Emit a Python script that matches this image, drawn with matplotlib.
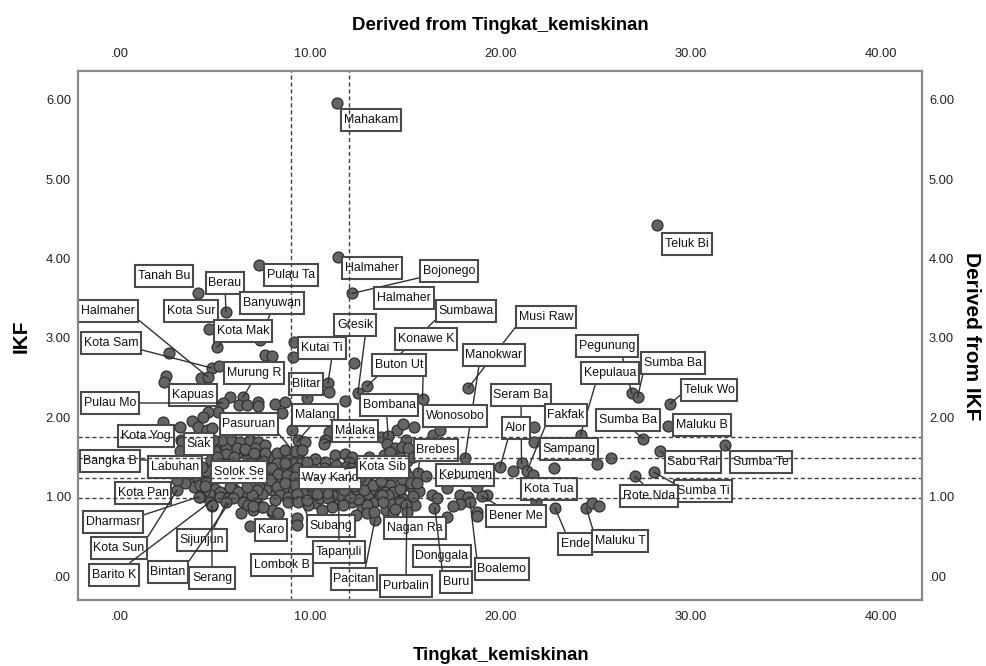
import matplotlib
matplotlib.use("Agg")
import matplotlib.pyplot as plt
from matplotlib.path import Path

plt.rcParams['font.family'] = ['Liberation Sans', 'DejaVu Sans']

# Scatter values: poverty rate (Tingkat_kemiskinan) and IKF
poverty_outliers = [11.4, 28.2, 7.3, 11.45, 12.2, 4.1, 5.57, 4.68, 5.1, 7.36, 9.14, 9.09, 7.62, 8.0, 12.3, 2.57, 4.83, 5.2, 4.26, 4.62, 2.42, 2.31, 10.93, 11.0, 12.98, 12.5, 11.82, 9.83, 15.9, 18.3]
ikf_outliers = [5.96, 4.42, 3.92, 4.02, 3.56, 3.56, 3.33, 3.11, 2.88, 2.97, 2.95, 2.76, 2.78, 2.77, 2.68, 2.81, 2.62, 2.64, 2.49, 2.51, 2.52, 2.44, 2.43, 2.32, 2.39, 2.3, 2.2, 2.24, 2.23, 2.37]

poverty_right = [26.9, 27.2, 28.9, 28.8, 27.5, 24.2, 31.8, 28.4, 25.8, 25.06, 22.8, 28.06, 27.06, 21.76, 21.76, 21.1, 21.4, 21.7, 20.66, 19.97, 19.3, 19.0, 18.76, 18.76, 22.86, 24.5, 24.8, 25.17, 21.86, 18.13, 17.87, 18.3, 18.4, 17.87, 17.5, 17.2, 16.4, 16.66, 16.5, 17.2, 18.76, 15.66, 16.08, 15.6]
ikf_right = [2.3, 2.25, 2.17, 1.89, 1.73, 1.78, 1.65, 1.57, 1.49, 1.41, 1.36, 1.31, 1.26, 1.88, 1.69, 1.42, 1.33, 1.27, 1.32, 1.37, 1.02, 1.01, 0.81, 0.76, 0.86, 0.86, 0.92, 0.88, 0.93, 1.49, 1.02, 1.0, 0.93, 0.91, 0.88, 0.74, 1.02, 0.98, 0.86, 1.11, 1.12, 1.3, 1.26, 1.17]

poverty_band = [6.46, 5.78, 5.41, 5.15, 4.62, 4.36, 3.78, 2.26, 3.15, 4.1, 4.57, 4.83, 6.25, 6.67, 7.25, 7.25, 8.15, 8.67, 8.5, 9.04, 14.55, 14.9, 15.45, 16.45, 16.8, 11.0, 10.77, 10.7, 9.72, 9.56, 13.7, 14.1, 14.03, 15.03, 14.45, 14.8, 15.13, 14.19, 3.2, 3.9, 4.4, 4.9, 3.24, 3.15]
ikf_band = [2.25, 2.25, 2.18, 2.07, 2.07, 2.0, 1.95, 1.94, 1.88, 1.88, 1.84, 1.86, 2.15, 2.15, 2.19, 2.14, 2.17, 2.19, 2.05, 1.84, 1.84, 1.91, 1.88, 1.78, 1.84, 1.81, 1.71, 1.67, 1.69, 1.59, 1.75, 1.76, 1.67, 1.71, 1.61, 1.62, 1.61, 1.56, 1.72, 1.7, 1.74, 1.72, 1.69, 1.57]

poverty_west = [5.34, 5.87, 6.3, 6.83, 7.27, 7.62, 6.13, 6.57, 7.1, 7.62, 8.23, 8.67, 9.2, 9.63, 9.37, 10.25, 9.81, 8.23, 8.65, 7.97, 8.32, 8.76, 9.28, 9.2, 9.72, 7.88, 8.23, 8.67, 9.2, 9.63, 10.33, 8.41, 8.85, 9.28, 8.15, 8.85, 9.37, 9.81, 7.45, 7.18, 6.92, 6.48, 6.74, 7.0, 7.45, 7.97, 8.32, 5.25, 5.78, 6.22, 5.25, 5.69, 5.95, 4.73, 4.2, 4.82, 4.2, 4.55, 4.46, 4.81, 5.0, 5.55, 6.0, 6.55, 7.05, 7.5, 4.7, 5.1, 4.3, 3.7, 3.0, 3.42, 4.15, 4.83, 6.36, 6.83, 9.3, 9.3, 8.0, 8.3, 7.5, 7.0, 3.0, 5.6, 6.7]
ikf_west = [1.71, 1.72, 1.69, 1.71, 1.69, 1.65, 1.61, 1.59, 1.61, 1.55, 1.55, 1.59, 1.57, 1.69, 1.71, 1.48, 1.44, 1.42, 1.42, 1.36, 1.29, 1.27, 1.36, 1.25, 1.21, 1.21, 1.12, 1.17, 1.15, 1.04, 1.04, 1.02, 1.0, 1.04, 0.96, 0.94, 0.94, 0.96, 1.04, 1.08, 1.02, 0.94, 0.9, 0.83, 0.87, 0.81, 0.79, 1.06, 1.12, 1.06, 1.0, 0.98, 0.98, 0.94, 1.0, 0.88, 1.15, 1.19, 1.13, 1.46, 1.58, 1.54, 1.5, 1.6, 1.55, 1.45, 1.62, 1.5, 1.38, 1.3, 1.08, 1.17, 1.0, 0.89, 0.79, 0.63, 0.73, 0.65, 0.83, 0.79, 0.87, 0.88, 1.21, 0.93, 1.12]

poverty_east = [13.05, 13.4, 14.1, 14.7, 13.66, 14.05, 14.36, 12.97, 12.52, 12.09, 11.56, 11.13, 10.51, 9.99, 9.63, 10.95, 11.13, 10.6, 11.74, 12.43, 12.97, 13.4, 13.35, 14.36, 15.08, 15.5, 14.9, 14.36, 13.05, 12.88, 12.4, 9.55, 10.25, 11.3, 11.82, 12.2, 12.05, 10.77, 14.2, 13.92, 14.36, 14.71, 14.1, 13.75, 14.27, 13.84, 14.71, 15.03, 14.45, 15.06, 10.2, 10.65, 11.2, 11.75, 12.3, 12.8, 13.3, 13.7, 10.4, 11.0, 11.5, 12.1, 12.6, 13.2, 10.1, 10.7, 11.35, 11.9, 12.55, 10.9, 14.8, 15.3, 15.7, 15.4, 10.05, 10.45, 13.0, 12.15]
ikf_east = [1.04, 1.1, 1.12, 1.08, 1.02, 1.04, 0.92, 0.9, 0.97, 1.0, 1.02, 1.02, 0.98, 1.02, 0.96, 0.98, 0.87, 0.83, 0.89, 0.77, 0.79, 0.71, 0.81, 0.81, 0.92, 0.89, 0.97, 1.02, 1.17, 1.21, 1.1, 1.44, 1.48, 1.53, 1.54, 1.5, 1.44, 1.44, 1.15, 1.06, 1.06, 1.1, 1.02, 1.02, 0.91, 0.94, 0.94, 0.9, 0.85, 0.81, 1.12, 1.1, 1.15, 1.08, 1.14, 1.08, 1.15, 1.2, 1.28, 1.25, 1.3, 1.27, 1.25, 1.3, 1.38, 1.36, 1.4, 1.37, 1.35, 1.05, 1.22, 1.17, 1.07, 1.01, 1.2, 1.1, 1.42, 1.36]

poverty_dense = [5.0, 5.6, 6.2, 6.75, 7.35, 7.9, 8.4, 8.9, 9.4, 5.2, 6.9, 7.4, 7.8, 8.7, 9.1, 9.6, 8.5, 9.0, 9.95, 10.0, 9.5, 9.05, 8.55, 8.0, 7.7, 7.3, 7.6, 7.2, 6.4, 6.0, 5.5, 5.0, 4.7, 4.4, 12.6, 13.1, 13.5, 13.9, 14.3, 14.7, 15.1, 15.4, 14.5, 15.0, 15.3, 14.9, 15.4, 13.4, 13.9, 14.3, 13.6, 13.0, 12.2, 11.5, 10.9, 11.5, 12.0, 10.3, 9.9, 10.75, 13.4, 12.7, 14.0, 3.4, 3.8, 3.5, 3.9, 4.3, 4.05, 3.6, 4.1, 4.55, 3.9, 2.9]
ikf_dense = [1.66, 1.62, 1.55, 1.5, 1.53, 1.5, 1.46, 1.5, 1.47, 1.45, 1.42, 1.38, 1.3, 1.36, 1.42, 1.33, 1.2, 1.3, 1.3, 1.15, 1.12, 1.09, 1.08, 1.08, 1.1, 1.15, 1.22, 1.0, 1.02, 1.1, 1.03, 1.1, 1.03, 1.07, 1.42, 1.5, 1.45, 1.52, 1.46, 1.5, 1.45, 1.5, 1.35, 1.32, 1.25, 1.13, 1.1, 1.32, 1.3, 1.22, 1.05, 0.95, 0.93, 0.97, 1.12, 1.15, 1.18, 0.92, 0.9, 1.15, 0.95, 0.85, 0.83, 1.42, 1.5, 1.55, 1.6, 1.75, 1.55, 1.2, 1.25, 1.33, 1.12, 1.45]

poverty_ticks = [0, 10, 20, 30, 40]
ikf_ticks = [0, 1, 2, 3, 4, 5, 6]
poverty_tick_labels = ['.00', '10.00', '20.00', '30.00', '40.00']
ikf_tick_labels = ['.00', '1.00', '2.00', '3.00', '4.00', '5.00', '6.00']
poverty_reference = [9.0, 12.03]
ikf_reference = [0.98, 1.24, 1.49, 1.75]

# Case labels with the values their leader lines go to (None: no leader)
label_names = ['Mahakam', 'Teluk Bi', 'Tanah Bu', 'Berau', 'Pulau Ta', 'Halmaher', 'Bojonego', 'Halmaher', 'Sumbawa', 'Banyuwan', 'Kota Sur', 'Kota Mak', 'Halmaher', 'Kota Sam', 'Gresik', 'Kutai Ti', 'Konawe K', 'Buton Ut', 'Musi Raw', 'Manokwar', 'Murung R', 'Kapuas', 'Pulau Mo', 'Blitar', 'Pegunung', 'Sumba Ba', 'Kepulaua', 'Teluk Wo', 'Sumba Ba', 'Maluku B', 'Seram Ba', 'Fakfak', 'Alor', 'Sampang', 'Wonosobo', 'Bombana', 'Malang', 'Malaka', 'Pasuruan', 'Kota Yog', 'Siak', 'Bangka B', 'Labuhan', 'Solok Se', 'Way Kand', 'Kota Sib', 'Brebes', 'Kebumen', 'Kota Pan', 'Dharmasr', 'Kota Sun', 'Barito K', 'Sijunjun', 'Bintan', 'Serang', 'Karo', 'Lombok B', 'Subang', 'Tapanuli', 'Pacitan', 'Nagan Ra', 'Purbalin', 'Donggala', 'Buru', 'Boalemo', 'Bener Me', 'Kota Tua', 'Ende', 'Maluku T', 'Sabu Rai', 'Sumba Te', 'Sumba Ti', 'Rote Nda']
leader_targets = [None, None, None, (5.57, 3.33), None, None, (12.2, 3.56), None, (12.98, 2.39), (7.36, 2.97), None, (5.1, 2.88), (4.62, 2.51), (4.83, 2.62), (12.5, 2.3), (10.93, 2.43), None, (15.9, 2.23), (18.3, 2.37), (18.13, 1.49), (6.46, 2.25), None, (5.41, 2.18), (9.83, 2.24), (26.9, 2.3), (27.2, 2.25), (24.2, 1.78), (28.9, 2.17), (27.5, 1.73), None, (21.1, 1.42), (21.4, 1.33), (19.97, 1.37), None, None, (14.1, 1.76), (9.3, 1.69), (10.7, 1.67), (9.04, 1.59), None, None, (4.0, 1.45), None, None, None, (11.8, 1.35), (15.66, 1.31), None, None, (4.15, 1.0), (3.0, 1.08), (4.83, 0.95), (5.6, 0.93), (5.73, 0.92), (4.83, 0.89), None, None, (9.6, 0.9), (11.5, 0.9), (13.4, 0.71), None, (15.08, 0.92), None, (16.55, 0.86), (18.4, 0.93), (19.0, 1.01), (21.86, 0.93), (22.86, 0.86), (24.5, 0.86), (28.4, 1.57), (31.8, 1.65), (28.06, 1.31), (27.06, 1.26)]

# Layout: label box centres in figure pixels (x, y from the top), kept apart from the data
label_px = [(371, 120), (687, 244), (164, 276), (225, 283), (291, 275), (372, 268), (449, 271), (404, 298), (466, 311), (272, 303), (191, 311), (243, 331), (108, 311), (111, 343), (355, 325), (322, 348), (426, 339), (399, 365), (546, 317), (494, 355), (254, 373), (193, 395), (110, 403), (306, 384), (607, 346), (673, 363), (610, 373), (709, 390), (628, 420), (702, 425), (521, 395), (566, 415), (516, 428), (569, 449), (455, 416), (389, 405), (315, 415), (355, 431), (249, 424), (146, 436), (199, 444), (110, 461), (175, 467), (239, 472), (330, 478), (383, 467), (436, 450), (465, 475), (143, 493), (113, 522), (119, 548), (114, 575), (202, 540), (168, 572), (212, 578), (271, 530), (282, 565), (331, 526), (339, 552), (354, 579), (415, 528), (406, 586), (442, 556), (456, 582), (502, 569), (516, 516), (549, 489), (575, 544), (620, 541), (693, 462), (761, 462), (703, 491), (649, 496)]
# Layout: where on a box its leader starts (fraction of box width, height); default is the centre
leader_anchor = {6: (0, 0), 8: (0, 0), 9: (0.5, 0), 11: (0.2, 0), 12: (1, 0), 13: (1, 0), 14: (0.8, 0), 15: (0.75, 0),
                 17: (1, 0), 18: (0, 0), 19: (0.25, 0), 20: (0.5, 0), 23: (0.5, 0), 24: (0.75, 0), 25: (0, 0),
                 26: (0.25, 0), 27: (0, 0.3), 28: (0.5, 0), 30: (0.5, 0), 31: (0, 0), 32: (0.2, 0), 35: (0.45, 0),
                 36: (0.5, 0), 38: (1, 0), 41: (1, 0.6), 45: (0, 0.5), 46: (0.1, 0), 49: (1, 1), 50: (1, 1),
                 51: (0.6, 0.8), 52: (0.7, 1), 53: (1, 1), 54: (0.5, 1), 57: (0, 1), 58: (0.5, 1), 59: (0.75, 1),
                 61: (0.5, 1), 63: (0, 1), 64: (0, 0.9), 67: (0.25, 1), 68: (0, 1), 69: (0, 1), 70: (0, 1),
                 71: (0, 1), 72: (0.5, 1)}


def label_box(x0, y0, width, height, mutation_size):
    pad_x, pad_y = 2.8, 5.2
    return Path([(x0 - pad_x, y0 - pad_y), (x0 + width + pad_x, y0 - pad_y),
                 (x0 + width + pad_x, y0 + height + pad_y), (x0 - pad_x, y0 + height + pad_y),
                 (x0 - pad_x, y0 - pad_y)], closed=True)


W, H = 986, 666
fig = plt.figure(figsize=(W / 100, H / 100), dpi=100, facecolor='white')
ax = fig.add_axes([78 / W, 1 - 600 / H, (922 - 78) / W, (600 - 71) / H])
ax.set_xlim(-2.2, 42.14)
ax.set_ylim(-0.30, 6.36)

for g_x, g_y in [(poverty_dense, ikf_dense), (poverty_east, ikf_east), (poverty_west, ikf_west),
                 (poverty_band, ikf_band), (poverty_right, ikf_right), (poverty_outliers, ikf_outliers)]:
    ax.scatter(g_x, g_y, s=62, facecolor='#646464', edgecolor='#303030', linewidth=0.9, zorder=2)

for xr in poverty_reference:
    ax.axvline(xr, color='#404040', lw=1.0, ls=(0, (3, 2)), zorder=6)
for yr in ikf_reference:
    ax.axhline(yr, color='#404040', lw=1.0, ls=(0, (3, 2)), zorder=6)

for i, (name, target, (px, py)) in enumerate(zip(label_names, leader_targets, label_px)):
    box = dict(boxstyle=label_box, facecolor='white', edgecolor='#4a4a4a', linewidth=1.5)
    if target is None:
        ax.text(px, H - py, name, transform=None, fontsize=8.9, color='#111111', ha='center', va='center',
                bbox=box, zorder=5)
    else:
        ax.annotate(name, xy=target, xycoords='data', xytext=(px, H - py), textcoords='figure pixels',
                    fontsize=8.9, color='#111111', ha='center', va='center', bbox=box, zorder=5,
                    arrowprops=dict(arrowstyle='-', color='#303030', lw=1.0, shrinkA=0, shrinkB=0,
                                    relpos=leader_anchor.get(i, (0.5, 0.5))))

for s in ax.spines.values():
    s.set_color('#8a8a8a')
    s.set_linewidth(1.6)
    s.set_zorder(7)

ax.tick_params(axis='x', which='both', length=0, labelsize=9.3, labelcolor='#222222',
               top=True, labeltop=True, pad=8)
ax.tick_params(axis='y', which='both', length=0, labelsize=9.3, labelcolor='#222222',
               right=True, labelright=True, pad=5)
ax.set_xticks(poverty_ticks)
ax.set_xticklabels(poverty_tick_labels)
ax.set_yticks(ikf_ticks)
ax.set_yticklabels(ikf_tick_labels)

fig.text(500 / W, 1 - 25 / H, 'Derived from Tingkat_kemiskinan', fontsize=13.4, fontweight='bold', ha='center', va='center')
fig.text(501 / W, 1 - 655 / H, 'Tingkat_kemiskinan', fontsize=13.4, fontweight='bold', ha='center', va='center')
fig.text(21 / W, 1 - 336 / H, 'IKF', fontsize=15, fontweight='bold', rotation=90, ha='center', va='center')
fig.text(972 / W, 1 - 336 / H, 'Derived from IKF', fontsize=15, fontweight='bold', rotation=270, ha='center', va='center')

fig.savefig('out.png', dpi=100)
